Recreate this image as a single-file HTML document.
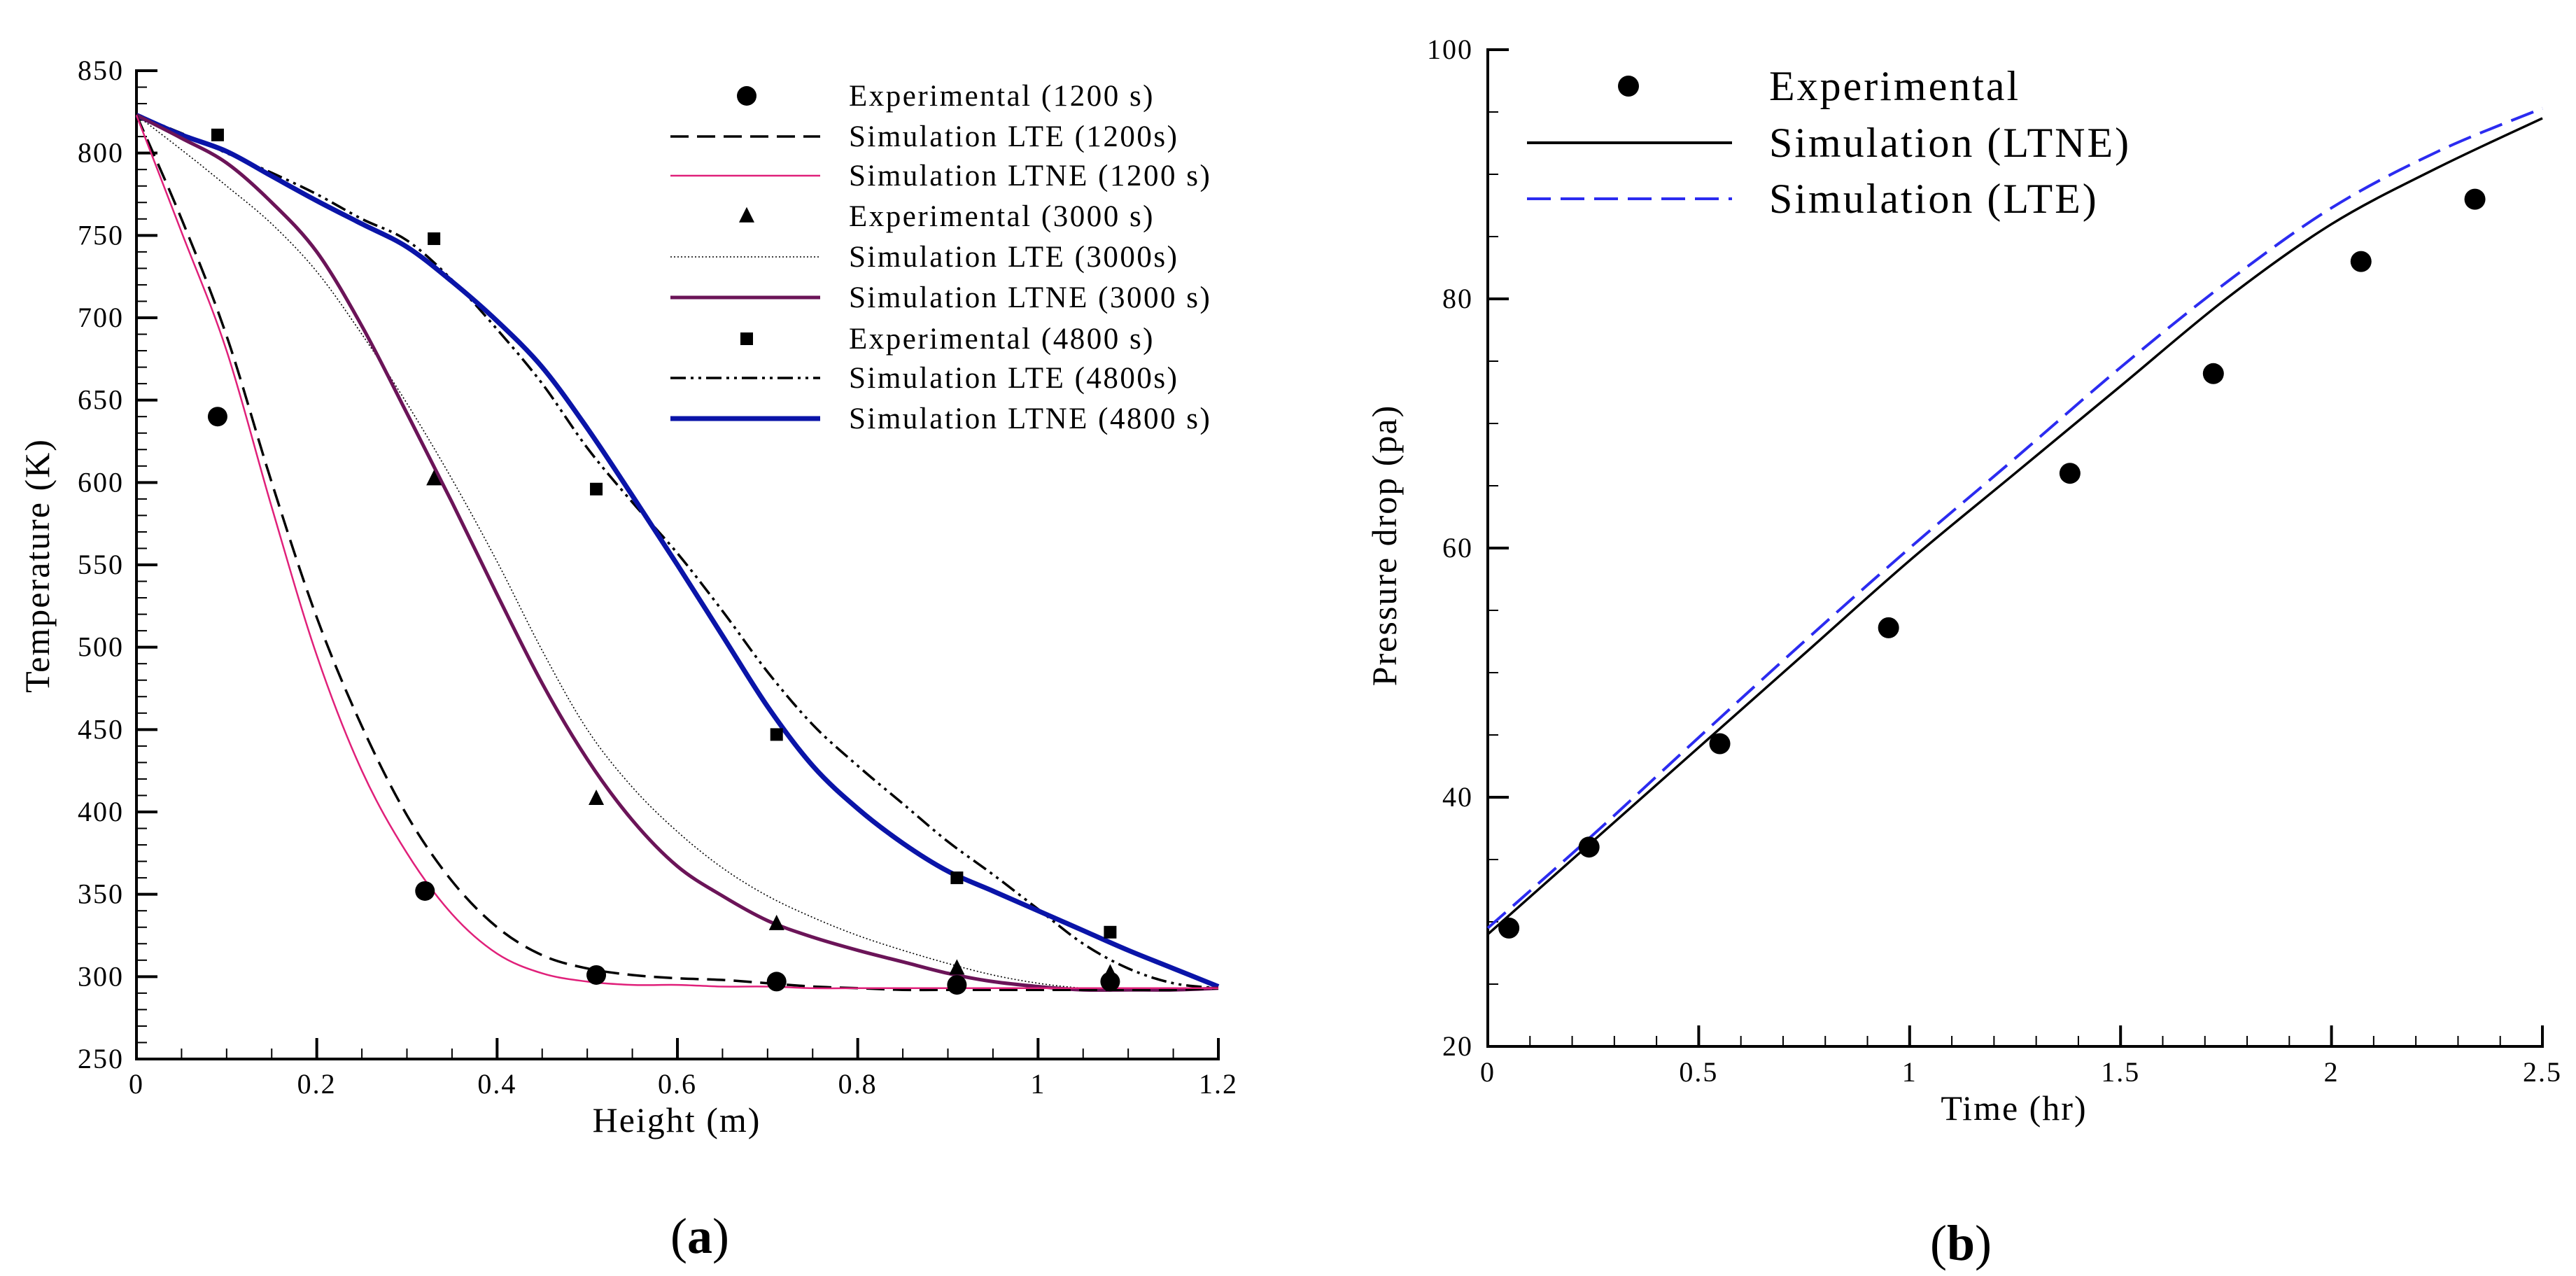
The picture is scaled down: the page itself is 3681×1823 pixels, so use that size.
<!DOCTYPE html>
<html><head><meta charset="utf-8"><style>
html,body{margin:0;padding:0;background:#fff;}
svg{display:block;font-family:"Liberation Serif",serif;}
</style></head><body>
<svg id="fig" width="3681" height="1823" viewBox="0 0 3681 1823"></svg>
<script>
// ---- Chart (a) data ----
const aXTicks=[0,0.2,0.4,0.6,0.8,1,1.2];
const aXTickLabels=["0","0.2","0.4","0.6","0.8","1","1.2"];
const aYTicks=[250,300,350,400,450,500,550,600,650,700,750,800,850];
const exp1200X=[0.09,0.32,0.51,0.71,0.91,1.08];
const exp1200Y=[640,352,301,297,295,297];
const exp3000X=[0.33,0.51,0.71,0.91,1.08];
const exp3000Y=[602,408,332,305,302];
const exp4800X=[0.09,0.33,0.51,0.71,0.91,1.08];
const exp4800Y=[811,748,596,447,360,327];
const simX=[0,0.05,0.1,0.15,0.2,0.25,0.3,0.35,0.4,0.45,0.5,0.55,0.6,0.65,0.7,0.75,0.8,0.85,0.9,0.95,1.0,1.05,1.1,1.15,1.2];
const lte1200=[823,760,689,600,518,452,398,358,330,313,305,301,299,298,296,294,293,292,292,292,292,292,292,292,293];
const ltne1200=[823,752,680,585,495,425,375,338,314,302,297,295,295,294,294,293,293,293,293,293,293,293,293,293,293];
const lte3000=[823,802,780,757,728,690,648,602,552,498,450,415,388,366,349,336,325,316,308,301,296,293,292,292,293];
const ltne3000=[823,809,794,770,740,695,642,588,532,478,432,395,367,349,334,324,316,309,302,297,294,292,292,292,293];
const lte4800=[823,812,800,788,775,760,747,723,693,660,621,588,557,522,485,453,428,405,382,362,341,320,305,296,293];
const ltne4800=[823,811,801,786,771,757,743,722,698,670,633,592,550,507,464,428,402,381,364,352,340,328,316,305,294];
// ---- Chart (b) data ----
const bXTicks=[0,0.5,1,1.5,2,2.5];
const bXTickLabels=["0","0.5","1","1.5","2","2.5"];
const bYTicks=[20,40,60,80,100];
const expTX=[0.05,0.24,0.55,0.95,1.38,1.72,2.07,2.34];
const expPY=[29.5,36,44.3,53.6,66,74,83,88];
const simT=[0,0.25,0.5,0.75,1,1.25,1.5,1.75,2,2.25,2.5];
const simLTNE=[29,36.5,44,51.5,59,66,73,80,86,90.5,94.5];
const simLTE=[29.5,37,44.8,52.5,60,67.2,74.5,81.3,87.3,91.8,95.3];

const NS="http://www.w3.org/2000/svg";
const svg=document.getElementById('fig');
function el(tag,attrs,parent){const e=document.createElementNS(NS,tag);for(const k in attrs)e.setAttribute(k,attrs[k]);(parent||svg).appendChild(e);return e;}
function txt(s,attrs,parent){const e=el('text',attrs,parent);e.textContent=s;return e;}
function path(xs,ys,sx,sy){
  const p=xs.map((x,i)=>[sx(x),sy(ys[i])]);
  let d='M'+p[0][0].toFixed(1)+','+p[0][1].toFixed(1);
  for(let i=0;i<p.length-1;i++){
    const p0=p[Math.max(0,i-1)],p1=p[i],p2=p[i+1],p3=p[Math.min(p.length-1,i+2)];
    const c1=[p1[0]+(p2[0]-p0[0])/6,p1[1]+(p2[1]-p0[1])/6];
    const c2=[p2[0]-(p3[0]-p1[0])/6,p2[1]-(p3[1]-p1[1])/6];
    d+=' C'+c1.map(v=>v.toFixed(1))+' '+c2.map(v=>v.toFixed(1))+' '+p2[0].toFixed(1)+','+p2[1].toFixed(1);
  }
  return d;
}
function circle(g,x,y,r){const c=el('circle',{cx:x,cy:y,r:r,fill:'#000'},g);return c;}
function square(g,x,y,s){const c=el('rect',{x:x-s/2,y:y-s/2,width:s,height:s,fill:'#000'},g);return c;}
function tri(g,x,y,s){const c=el('polygon',{points:`${x},${y-s*0.6} ${x-s/2},${y+s*0.4} ${x+s/2},${y+s*0.4}`,fill:'#000'},g);return c;}

// ===== Chart (a) =====
{
const L=195,R=1741,T=101,B=1513;
const sx=v=>L+(v-0)/1.2*(R-L);
const sy=v=>B-(v-250)/600*(B-T);
const g=el('g',{});


for(let v=250;v<=850;v+=10){const y=sy(v);const major=(v%50===0);el('line',{x1:L,x2:L+(major?30:15),y1:y,y2:y,stroke:'#000','stroke-width':major?4:2},g);}
for(let i=0;i<=24;i++){const v=i*0.05;const x=sx(v);const major=(i%4===0);el('line',{x1:x,x2:x,y1:B,y2:B-(major?30:15),stroke:'#000','stroke-width':major?4:2},g);}
el('line',{x1:L,x2:L,y1:T-2,y2:B+2,stroke:'#000','stroke-width':4},g);
el('line',{x1:L-2,x2:R+2,y1:B,y2:B,stroke:'#000','stroke-width':4},g);
aYTicks.forEach(v=>{const t=txt(String(v),{x:177,y:sy(v)+13,'text-anchor':'end','font-size':40,'letter-spacing':2,fill:'#000'},g);});
aXTicks.forEach((v,i)=>{const t=txt(aXTickLabels[i],{x:sx(v),y:1562,'text-anchor':'middle','font-size':40,'letter-spacing':2,fill:'#000'},g);});
const yt=txt('Temperature (K)',{x:0,y:0,transform:'translate(70,808) rotate(-90)','text-anchor':'middle','font-size':50,'letter-spacing':2,fill:'#000'},g);

const xt=txt('Height (m)',{x:967,y:1617,'text-anchor':'middle','font-size':50,'letter-spacing':2,fill:'#000'},g);

const series=[
 {d:lte4800,c:'#000',w:3.5,da:'22 7 4 7 4 7',n:'lte-4800-line'},
 {d:ltne4800,c:'#0a14a8',w:7,da:'',n:'ltne-4800-line'},
 {d:lte3000,c:'#000',w:1.6,da:'2 3',n:'lte-3000-line'},
 {d:ltne3000,c:'#6b1458',w:5,da:'',n:'ltne-3000-line'},
 {d:lte1200,c:'#000',w:3.5,da:'26 12',n:'lte-1200-line'},
 {d:ltne1200,c:'#e0207a',w:2.5,da:'',n:'ltne-1200-line'}];
series.forEach(s=>{const p=el('path',{d:path(simX,s.d,sx,sy),fill:'none',stroke:s.c,'stroke-width':s.w,'stroke-dasharray':s.da},g);});
exp1200X.forEach((x,i)=>circle(g,sx(x),sy(exp1200Y[i]),14));
exp3000X.forEach((x,i)=>tri(g,sx(x),sy(exp3000Y[i]),22));
exp4800X.forEach((x,i)=>square(g,sx(x),sy(exp4800Y[i]),18));
const lg=el('g',{},g);

const rows=[137,195,251,309,367,425,484,540,598];
const labels=['Experimental (1200 s)','Simulation LTE (1200s)','Simulation LTNE (1200 s)','Experimental (3000 s)','Simulation LTE (3000s)','Simulation LTNE (3000 s)','Experimental (4800 s)','Simulation LTE (4800s)','Simulation LTNE (4800 s)'];
const ls=[null,series[4],series[5],null,series[2],series[3],null,series[0],series[1]];
rows.forEach((y,i)=>{
  if(i===0)circle(lg,1067,y,14);
  else if(i===3)tri(lg,1067,y,22);
  else if(i===6)square(lg,1067,y,18);
  else{const s=ls[i];const l=el('line',{x1:958,x2:1172,y1:y,y2:y,stroke:s.c,'stroke-width':s.w,'stroke-dasharray':s.da},lg);}
  const t=txt(labels[i],{x:1213,y:y+14,'font-size':43,'letter-spacing':2.5,fill:'#000'},lg);
});
const cap=el('text',{x:1000,y:1790,'text-anchor':'middle','font-size':72,fill:'#000'},g);

cap.innerHTML='(<tspan font-weight="bold">a</tspan>)';
}

// ===== Chart (b) =====
{
const L=2126,R=3633,T=71,B=1495;
const sx=v=>L+v/2.5*(R-L);
const sy=v=>B-(v-20)/80*(B-T);
const g=el('g',{});


for(let v=20;v<=100;v+=5){const y=sy(v);const major=(v%20===0);el('line',{x1:L,x2:L+(major?30:15),y1:y,y2:y,stroke:'#000','stroke-width':major?4:2},g);}
for(let i=0;i<=25;i++){const x=sx(i*0.1);const major=(i%5===0);el('line',{x1:x,x2:x,y1:B,y2:B-(major?30:15),stroke:'#000','stroke-width':major?4:2},g);}
el('line',{x1:L,x2:L,y1:T-2,y2:B+2,stroke:'#000','stroke-width':4},g);
el('line',{x1:L-2,x2:R+2,y1:B,y2:B,stroke:'#000','stroke-width':4},g);
bYTicks.forEach(v=>{const t=txt(String(v),{x:2105,y:sy(v)+13,'text-anchor':'end','font-size':40,'letter-spacing':2,fill:'#000'},g);});
bXTicks.forEach((v,i)=>{const t=txt(bXTickLabels[i],{x:sx(v),y:1545,'text-anchor':'middle','font-size':40,'letter-spacing':2,fill:'#000'},g);});
const yt=txt('Pressure drop (pa)',{x:0,y:0,transform:'translate(1995,779) rotate(-90)','text-anchor':'middle','font-size':50,'letter-spacing':2,fill:'#000'},g);

const xt=txt('Time (hr)',{x:2878,y:1600,'text-anchor':'middle','font-size':50,'letter-spacing':2,fill:'#000'},g);

const p1=el('path',{d:path(simT,simLTE,sx,sy),fill:'none',stroke:'#2b2bf0','stroke-width':4,'stroke-dasharray':'34 14'},g);

const p2=el('path',{d:path(simT,simLTNE,sx,sy),fill:'none',stroke:'#000','stroke-width':3.5},g);

expTX.forEach((x,i)=>circle(g,sx(x),sy(expPY[i]),15));
const lg=el('g',{},g);

circle(lg,2327,123,15);
const l1=el('line',{x1:2182,x2:2475,y1:204,y2:204,stroke:'#000','stroke-width':4},lg);

const l2=el('line',{x1:2182,x2:2475,y1:284,y2:284,stroke:'#2b2bf0','stroke-width':4,'stroke-dasharray':'34 14'},lg);

[['Experimental',123],['Simulation (LTNE)',204],['Simulation (LTE)',284]].forEach(([s,y])=>{const t=txt(s,{x:2528,y:y+20,'font-size':60,'letter-spacing':3,fill:'#000'},lg);});
const cap=el('text',{x:2802,y:1800,'text-anchor':'middle','font-size':72,fill:'#000'},g);

cap.innerHTML='(<tspan font-weight="bold">b</tspan>)';
}
</script>
</body></html>
